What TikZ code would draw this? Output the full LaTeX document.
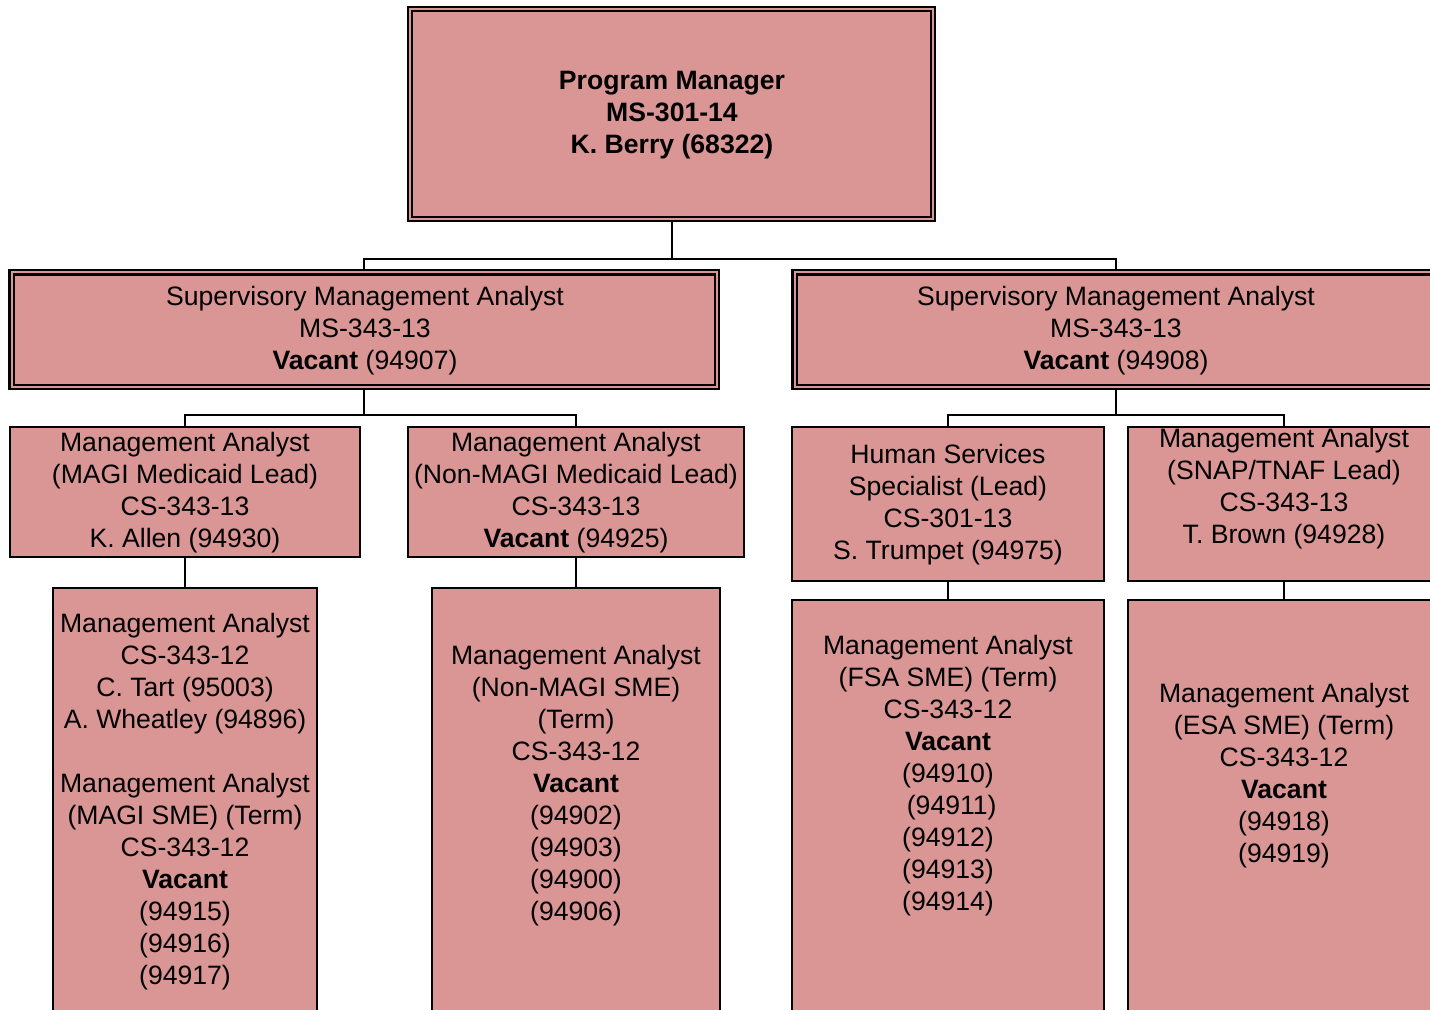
\documentclass[tikz,border=0pt]{standalone}
\usepackage{fontspec}
\setmainfont{Liberation Sans}
\usetikzlibrary{fit,backgrounds}
\definecolor{boxpink}{RGB}{217,150,148}

\begin{document}
\begin{tikzpicture}[x=0.5pt,y=-0.5pt,
        every node/.style={font=\fontsize{13.3}{16}\selectfont},
        box/.style={draw, line width=1pt, fill=boxpink, inner sep=0pt},
        dbox/.style={box, line width=1.1pt, double=boxpink, double distance=1pt},
        txt/.style={inner sep=0pt, align=center},
        link/.style={line width=1pt}]
        \useasboundingbox (0,0) rectangle (1430,1010);
        \clip (0,0) rectangle (1430,1010);

        \node[dbox, fit={(410,9) (933,219)}] (pm) {};
        \node[txt, font=\fontsize{13.3}{16}\selectfont\bfseries] (pmt) at (672,115)
            {Program Manager\\MS-301-14\\K. Berry (68322)};

        \node[dbox, fit={(11.5,272.5) (717,387)}] (sma1) {};
        \node[txt] (sma1t) at (365,331)
            {Supervisory Management Analyst\\MS-343-13\\\textbf{Vacant} (94907)};
        \node[dbox, fit={(794.5,272.5) (1437.5,387)}] (sma2) {};
        \node[txt] (sma2t) at (1116,331)
            {Supervisory Management Analyst\\MS-343-13\\\textbf{Vacant} (94908)};

        \node[box, fit={(10,427) (360,557)}] (ma1) {};
        \node[txt] (ma1t) at (185,493)
            {Management Analyst\\(MAGI Medicaid Lead)\\CS-343-13\\K. Allen (94930)};
        \node[box, fit={(408,427) (744,557)}] (ma2) {};
        \node[txt] (ma2t) at (576,493)
            {Management Analyst\\(Non-MAGI Medicaid Lead)\\CS-343-13\\\textbf{Vacant} (94925)};
        \node[box, fit={(792,427) (1104,581)}] (hss) {};
        \node[txt] (hsst) at (948,505)
            {Human Services\\Specialist (Lead)\\CS-301-13\\S. Trumpet (94975)};
        \node[box, fit={(1128,427) (1440,581)}] (ma3) {};
        \node[txt] (ma3t) at (1284,489)
            {Management Analyst\\(SNAP/TNAF Lead)\\CS-343-13\\T. Brown (94928)};

        \node[box, fit={(53,588) (317,1030)}] (ma4) {};
        \node[txt] (ma4t) at (185,802)
            {Management Analyst\\CS-343-12\\C. Tart (95003)\\A. Wheatley (94896)\\[16pt]
             Management Analyst\\(MAGI SME) (Term)\\CS-343-12\\\textbf{Vacant}\\(94915)\\(94916)\\(94917)};
        \node[box, fit={(432,588) (720,1030)}] (ma5) {};
        \node[txt] (ma5t) at (576,786)
            {Management Analyst\\(Non-MAGI SME)\\(Term)\\CS-343-12\\\textbf{Vacant}\\(94902)\\(94903)\\(94900)\\(94906)};
        \node[box, fit={(792,600) (1104,1030)}] (ma6) {};
        \node[txt] (ma6t) at (948,776)
            {Management Analyst\\(FSA SME) (Term)\\CS-343-12\\\textbf{Vacant}\\(94910)\\\hspace*{0.28em}(94911)\\(94912)\\(94913)\\(94914)};
        \node[box, fit={(1128,600) (1440,1030)}] (ma7) {};
        \node[txt] (ma7t) at (1284,776)
            {Management Analyst\\(ESA SME) (Term)\\CS-343-12\\\textbf{Vacant}\\(94918)\\(94919)};

        \begin{scope}[on background layer]
            \draw[link] (pm.south) -- ++(0,39) coordinate (j0);
            \draw[link] (sma1.north) |- (j0) -| (sma2.north);
            \draw[link] (sma1.south) -- ++(0,27) coordinate (j1);
            \draw[link] (ma1.north) |- (j1) -| (ma2.north);
            \draw[link] (sma2.south) -- ++(0,27) coordinate (j2);
            \draw[link] (hss.north) |- (j2) -| (ma3.north);
            \draw[link] (ma1) -- (ma4);
            \draw[link] (ma2) -- (ma5);
            \draw[link] (hss) -- (ma6);
            \draw[link] (ma3) -- (ma7);
        \end{scope}
    \end{tikzpicture}
\end{document}
